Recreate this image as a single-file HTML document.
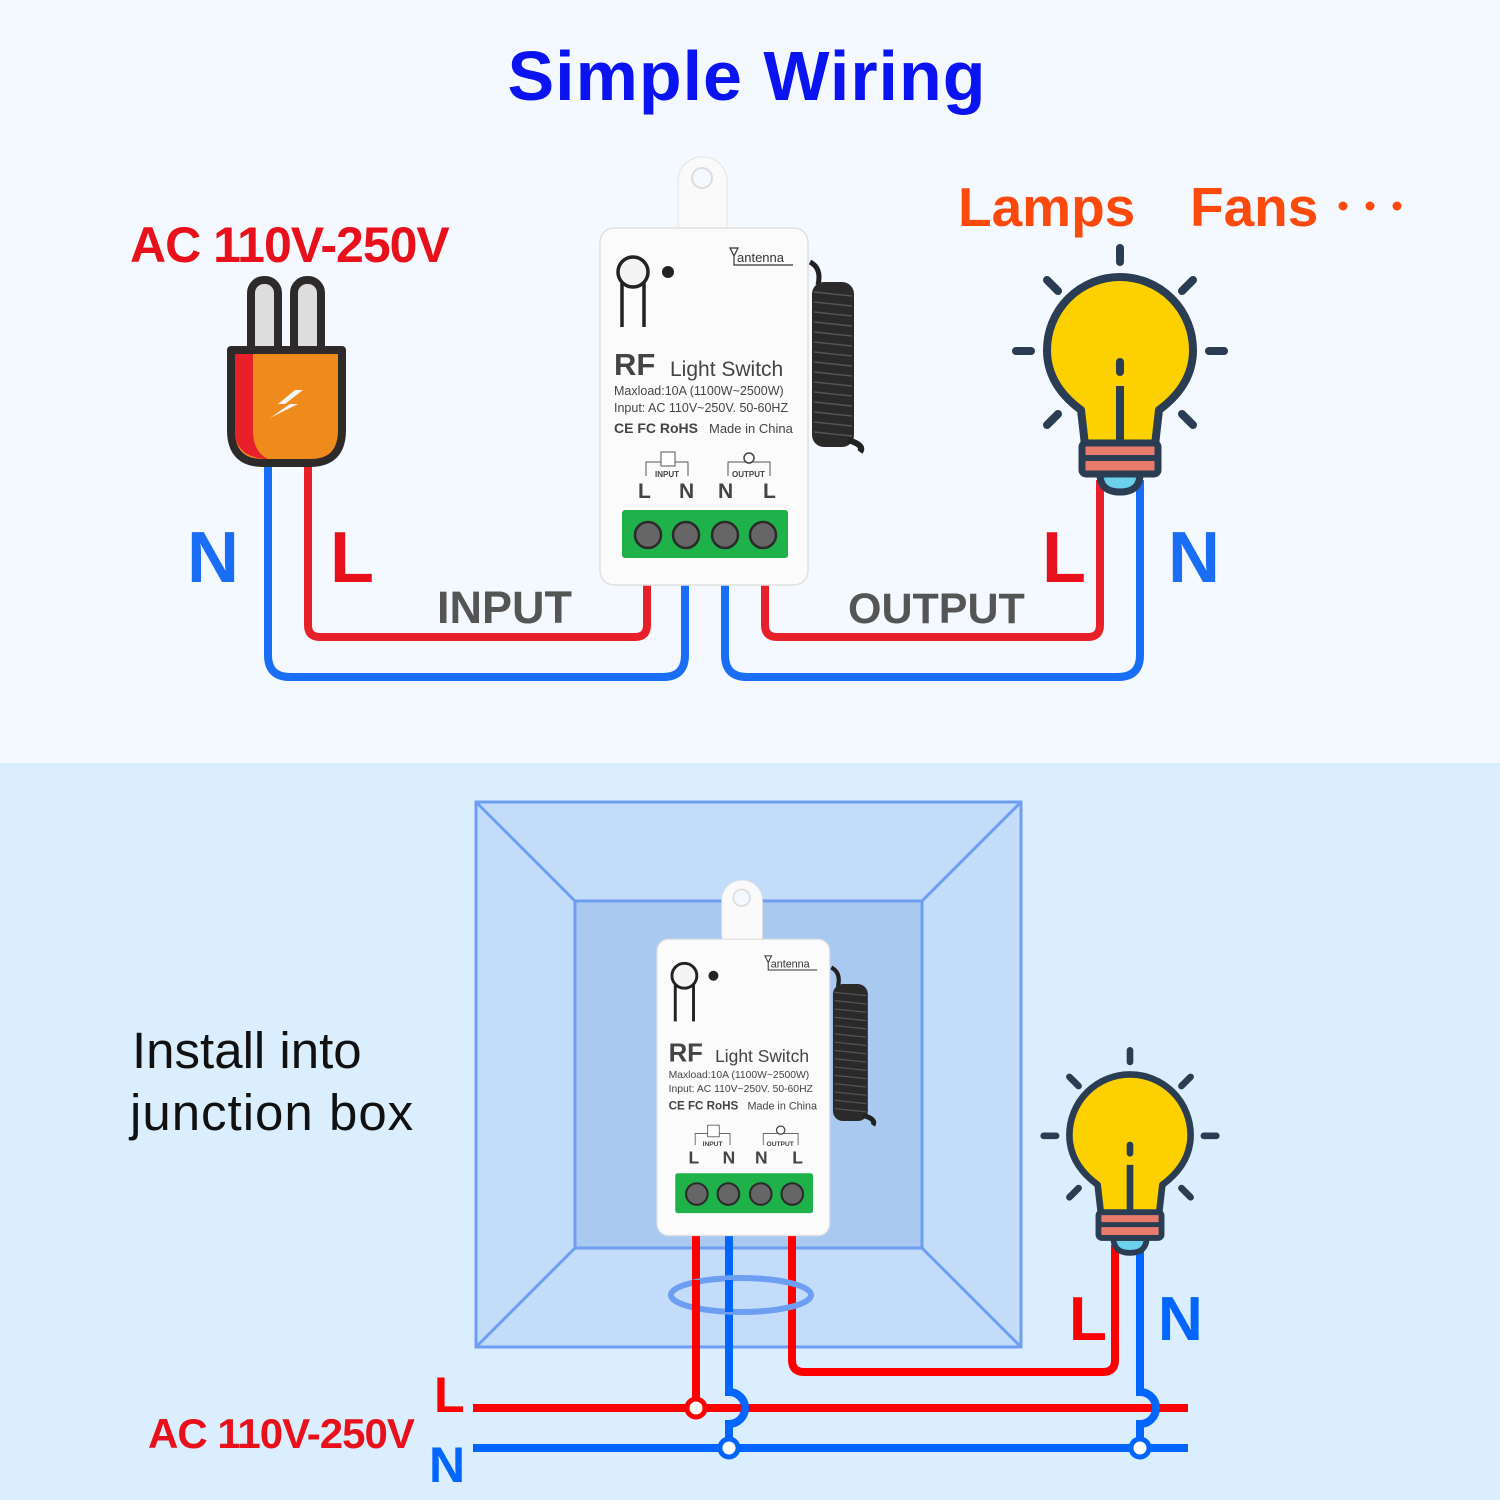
<!DOCTYPE html>
<html><head><meta charset="utf-8"><style>
html,body{margin:0;padding:0;}
body{width:1500px;height:1500px;overflow:hidden;}
svg text{font-family:"Liberation Sans",sans-serif;}
</style></head><body>
<svg width="1500" height="1500" viewBox="0 0 1500 1500" xmlns="http://www.w3.org/2000/svg">
<defs>
<g id="dev">
  <rect x="678" y="157" width="49" height="90" rx="24" fill="#fafafa" stroke="#e4e4e4"/>
  <circle cx="702" cy="178" r="10" fill="#f3f9fe" stroke="#dcdcdc" stroke-width="2"/>
  <path d="M810 262 Q822 268 818 285" stroke="#222" stroke-width="5" fill="none"/>
  <rect x="812" y="282" width="42" height="165" rx="12" fill="#2a2a2a"/>
  <g stroke="#555" stroke-width="1.5">
    <line x1="814" y1="292" x2="852" y2="296"/><line x1="814" y1="302" x2="852" y2="306"/><line x1="814" y1="312" x2="852" y2="316"/><line x1="814" y1="322" x2="852" y2="326"/><line x1="814" y1="332" x2="852" y2="336"/><line x1="814" y1="342" x2="852" y2="346"/><line x1="814" y1="352" x2="852" y2="356"/><line x1="814" y1="362" x2="852" y2="366"/><line x1="814" y1="372" x2="852" y2="376"/><line x1="814" y1="382" x2="852" y2="386"/><line x1="814" y1="392" x2="852" y2="396"/><line x1="814" y1="402" x2="852" y2="406"/><line x1="814" y1="412" x2="852" y2="416"/><line x1="814" y1="422" x2="852" y2="426"/><line x1="814" y1="432" x2="852" y2="436"/>
  </g>
  <path d="M848 440 Q865 445 860 452" stroke="#222" stroke-width="6" fill="none"/>
  <rect x="600" y="228" width="208" height="357" rx="14" fill="#fbfbfb" stroke="#e0e0e0" stroke-width="1.5"/>
  <circle cx="633" cy="272" r="15" fill="#f4f4f4" stroke="#222" stroke-width="3.5"/>
  <line x1="622" y1="283" x2="622" y2="327" stroke="#222" stroke-width="3.5"/>
  <line x1="644" y1="283" x2="644" y2="327" stroke="#222" stroke-width="3.5"/>
  <circle cx="668" cy="272" r="6" fill="#222"/>
  <text x="737" y="262" font-size="13" fill="#333">antenna</text>
  <path d="M730 248 L738 248 L734 256 Z M734 256 V265 H793" stroke="#333" stroke-width="1.2" fill="none"/>
  <text x="614" y="375" font-size="31" font-weight="bold" fill="#444">RF</text>
  <text x="670" y="376" font-size="21" fill="#444">Light Switch</text>
  <text x="614" y="395" font-size="12.5" fill="#444">Maxload:10A (1100W~2500W)</text>
  <text x="614" y="412" font-size="12.5" fill="#444">Input: AC 110V~250V. 50-60HZ</text>
  <text x="614" y="433" font-size="14" font-weight="bold" fill="#444">CE FC RoHS</text>
  <text x="709" y="433" font-size="13" fill="#444">Made in China</text>
  <path d="M646 476 V462 H688 V476 M728 476 V462 H770 V476" stroke="#555" stroke-width="1" fill="none"/>
  <rect x="661" y="452" width="14" height="14" fill="#fff" stroke="#555"/>
  <text x="655" y="477" font-size="8" font-weight="bold" fill="#444">INPUT</text>
  <text x="732" y="477" font-size="8" font-weight="bold" fill="#444">OUTPUT</text>
  <circle cx="749" cy="458" r="5" fill="#fff" stroke="#444" stroke-width="1.5"/>
  <text x="638" y="498" font-size="21" font-weight="bold" fill="#444">L</text>
  <text x="679" y="498" font-size="21" font-weight="bold" fill="#444">N</text>
  <text x="718" y="498" font-size="21" font-weight="bold" fill="#444">N</text>
  <text x="763" y="498" font-size="21" font-weight="bold" fill="#444">L</text>
  <rect x="622" y="510" width="166" height="48" rx="3" fill="#20b24a"/>
  <g fill="#666" stroke="#2a2a2a" stroke-width="2.5">
    <circle cx="648" cy="535" r="13"/><circle cx="686" cy="535" r="13"/><circle cx="725" cy="535" r="13"/><circle cx="763" cy="535" r="13"/>
  </g>
</g>
<g id="bulb">
  <g stroke="#2a3d52" stroke-width="8" stroke-linecap="round" fill="none">
    <line x1="1120" y1="248" x2="1120" y2="262"/>
    <line x1="1047" y1="280" x2="1058" y2="291"/>
    <line x1="1193" y1="280" x2="1182" y2="291"/>
    <line x1="1016" y1="351" x2="1031" y2="351"/>
    <line x1="1209" y1="351" x2="1224" y2="351"/>
    <line x1="1047" y1="425" x2="1058" y2="414"/>
    <line x1="1193" y1="425" x2="1182" y2="414"/>
  </g>
  <path d="M1085 445 L1081 410 Q1047 385 1047 350 A73 73 0 1 1 1193 350 Q1193 385 1159 410 L1155 445 Z" fill="#fdd000" stroke="#2a3d52" stroke-width="8" stroke-linejoin="round"/>
  <line x1="1120" y1="362" x2="1120" y2="372" stroke="#2a3d52" stroke-width="8" stroke-linecap="round"/>
  <line x1="1120" y1="386" x2="1120" y2="445" stroke="#2a3d52" stroke-width="8"/>
  <path d="M1100 474 Q1100 492 1120 492 Q1140 492 1140 474 Z" fill="#6dd0ec" stroke="#2a3d52" stroke-width="7"/>
  <rect x="1082" y="443" width="76" height="31" rx="4" fill="#e97b6c" stroke="#2a3d52" stroke-width="7"/>
  <line x1="1082" y1="458" x2="1158" y2="458" stroke="#2a3d52" stroke-width="6"/>
</g>
</defs>

<rect x="0" y="0" width="1500" height="763" fill="#f3f9fe"/>
<rect x="0" y="763" width="1500" height="737" fill="#dbeefe"/>

<text x="747" y="100" font-size="70" font-weight="bold" fill="#0a14f0" text-anchor="middle" letter-spacing="1">Simple Wiring</text>
<text x="130" y="262" font-size="50" font-weight="bold" fill="#e8101a" letter-spacing="-1">AC 110V-250V</text>
<text x="958" y="226" font-size="55" font-weight="bold" fill="#fb4a0c">Lamps</text>
<text x="1190" y="226" font-size="55" font-weight="bold" fill="#fb4a0c">Fans</text>
<g fill="#fb4a0c"><circle cx="1343" cy="206" r="4.5"/><circle cx="1370" cy="206" r="4.5"/><circle cx="1397" cy="206" r="4.5"/></g>

<g fill="none" stroke-width="8" stroke-linejoin="round">
  <path d="M268 465 V655 Q268 677 290 677 H663 Q685 677 685 655 V585" stroke="#1a6ef5"/>
  <path d="M308 465 V625 Q308 637 320 637 H635 Q647 637 647 625 V585" stroke="#e8202a"/>
  <path d="M725 585 V655 Q725 677 747 677 H1118 Q1140 677 1140 655 V480" stroke="#1a6ef5"/>
  <path d="M765 585 V625 Q765 637 777 637 H1088 Q1100 637 1100 625 V480" stroke="#e8202a"/>
</g>

<rect x="251" y="280" width="27" height="80" rx="13" fill="#ddd" stroke="#2e2a2a" stroke-width="8"/>
<rect x="294" y="280" width="27" height="80" rx="13" fill="#ddd" stroke="#2e2a2a" stroke-width="8"/>
<path d="M231 350 H342 V430 Q342 463 310 463 H263 Q231 463 231 430 Z" fill="#ef8a1c" stroke="#2e2a2a" stroke-width="8" stroke-linejoin="round"/>
<path d="M235 354 H253 V430 Q253 452 268 459 Q235 458 235 430 Z" fill="#e8202a"/>
<path d="M295 390 L278 404 H290 L270 418 L298 404 H285 L303 390 Z" fill="#f4f4f4"/>

<use href="#dev"/>
<use href="#bulb"/>

<text x="187" y="582" font-size="72" font-weight="bold" fill="#1a6ef5">N</text>
<text x="330" y="582" font-size="72" font-weight="bold" fill="#e8101a">L</text>
<text x="437" y="623" font-size="45" font-weight="bold" fill="#555">INPUT</text>
<text x="848" y="623" font-size="43" font-weight="bold" fill="#555">OUTPUT</text>
<text x="1042" y="582" font-size="72" font-weight="bold" fill="#e8101a">L</text>
<text x="1168" y="582" font-size="72" font-weight="bold" fill="#1a6ef5">N</text>

<rect x="476" y="802" width="545" height="545" fill="#c2dcfa" stroke="#6e9ef2" stroke-width="3"/>
<rect x="575" y="901" width="347" height="347" fill="#a9c9f0" stroke="#6e9ef2" stroke-width="3"/>
<g stroke="#6e9ef2" stroke-width="3">
  <line x1="476" y1="802" x2="575" y2="901"/><line x1="1021" y1="802" x2="922" y2="901"/>
  <line x1="476" y1="1347" x2="575" y2="1248"/><line x1="1021" y1="1347" x2="922" y2="1248"/>
</g>

<text x="132" y="1068" font-size="51" fill="#111">Install into</text>
<text x="130" y="1130" font-size="51" fill="#111" letter-spacing="1">junction box</text>

<g fill="none" stroke-width="8">
  <line x1="473" y1="1408" x2="1188" y2="1408" stroke="#ff0000"/>
  <line x1="473" y1="1448" x2="1188" y2="1448" stroke="#0066ff"/>
  <path d="M696 1232 V1400" stroke="#ff0000"/>
  <path d="M729 1232 V1392 A16 16 0 0 1 729 1424 V1440" stroke="#0066ff"/>
  <path d="M792 1232 V1360 Q792 1372 804 1372 H1103 Q1115 1372 1115 1360 V1245" stroke="#ff0000"/>
  <path d="M1140 1245 V1392 A16 16 0 0 1 1140 1424 V1440" stroke="#0066ff"/>
</g>
<circle cx="696" cy="1408" r="9" fill="#fff" stroke="#ff0000" stroke-width="5"/>
<circle cx="729" cy="1448" r="9" fill="#fff" stroke="#0066ff" stroke-width="5"/>
<circle cx="1140" cy="1448" r="9" fill="#fff" stroke="#0066ff" stroke-width="5"/>
<ellipse cx="741" cy="1295" rx="70" ry="17" fill="none" stroke="#6e9ef2" stroke-width="6"/>
<g fill="none" stroke-width="8">
  <line x1="696" y1="1280" x2="696" y2="1312" stroke="#ff0000"/>
  <line x1="729" y1="1280" x2="729" y2="1312" stroke="#0066ff"/>
</g>

<g transform="translate(159 750) scale(0.83)"><use href="#dev"/></g>
<g transform="translate(1130 1135) scale(0.83) translate(-1120 -350)"><use href="#bulb"/></g>

<text x="148" y="1448" font-size="42" font-weight="bold" fill="#e8101a" letter-spacing="-1">AC 110V-250V</text>
<text x="434" y="1412" font-size="50" font-weight="bold" fill="#ff0000">L</text>
<text x="429" y="1482" font-size="50" font-weight="bold" fill="#0066ff">N</text>
<text x="1069" y="1340" font-size="62" font-weight="bold" fill="#ff0000">L</text>
<text x="1158" y="1340" font-size="62" font-weight="bold" fill="#0066ff">N</text>
</svg>
</body></html>
